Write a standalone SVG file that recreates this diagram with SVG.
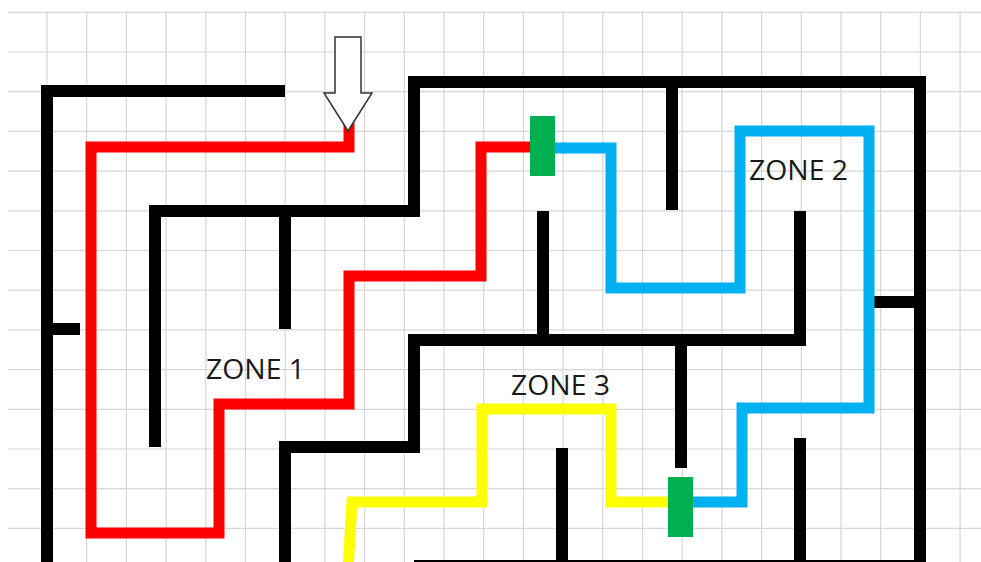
<svg xmlns="http://www.w3.org/2000/svg" width="981" height="562" viewBox="0 0 981 562">
<defs>
<style>
.grid{stroke:#d6d6d6;stroke-width:1.2;fill:none}
.wall{stroke:#000;stroke-width:12;fill:none;stroke-linejoin:miter;stroke-linecap:butt}
.path{stroke-width:11;fill:none;stroke-linejoin:miter;stroke-linecap:butt}
.red{stroke:#ff0000}
.blue{stroke:#00b0f0}
.yellow{stroke:#ffff00}
.gate{fill:#00b050}
.label{font-family:"Open Sans","Liberation Sans",sans-serif;font-size:28px;fill:#1a1a1a}
</style>
</defs>
<rect x="0" y="0" width="981" height="562" fill="#ffffff"/>
<g id="grid" class="grid">
<path d="M8,12.3H981M8,52H981M8,91.7H981M8,131.4H981M8,171.1H981M8,210.8H981M8,250.5H981M8,290.2H981M8,329.9H981M8,369.6H981M8,409.3H981M8,449H981M8,488.7H981M8,528.4H981"/>
<path d="M47,11V562M86.7,11V562M126.4,11V562M166.1,11V562M205.8,11V562M245.5,11V562M285.2,11V562M324.9,11V562M364.6,11V562M404.3,11V562M444,11V562M483.7,11V562M523.4,11V562M563.1,11V562M602.8,11V562M642.5,11V562M682.2,11V562M721.9,11V562M761.6,11V562M801.3,11V562M841,11V562M880.7,11V562M920.4,11V562M960.1,11V562"/>
</g>
<g id="walls" class="wall">
<path d="M285,91H47V570"/>
<path d="M47,329H80"/>
<path d="M155,447V211H414V82H920V570"/>
<path d="M285,211V329"/>
<path d="M672,82V210"/>
<path d="M543,211V340"/>
<path d="M800,211V340H414V447H285V570"/>
<path d="M681,340V468"/>
<path d="M870,302H920"/>
<path d="M800,438V570"/>
<path d="M562,448V570"/>
<path d="M414,566H920"/>
</g>
<g id="connectors">
<path class="path red" d="M349,120V147H91V533H219V404H349V276H481V147H532"/>
<path class="path blue" d="M553,148H611V288H740V131H869V408H742V502H691"/>
<path class="path yellow" d="M670,502H611V409H482V502H352L348,570"/>
</g>
<g id="gate1"><rect class="gate" x="530" y="116" width="25" height="60"/></g>
<g id="gate2"><rect class="gate" x="668" y="477" width="25" height="60"/></g>
<g id="entry-arrow">
<polygon points="335,37 361,37 361,93 372,93 348,131 324,93 335,93" fill="#ffffff" stroke="#333333" stroke-width="1.5" stroke-linejoin="miter"/>
</g>
<g id="zone1"><text class="label" x="206" y="379" textLength="99" lengthAdjust="spacingAndGlyphs">ZONE 1</text></g>
<g id="zone2"><text class="label" x="749" y="180" textLength="99" lengthAdjust="spacingAndGlyphs">ZONE 2</text></g>
<g id="zone3"><text class="label" x="511" y="395" textLength="99" lengthAdjust="spacingAndGlyphs">ZONE 3</text></g>
</svg>
